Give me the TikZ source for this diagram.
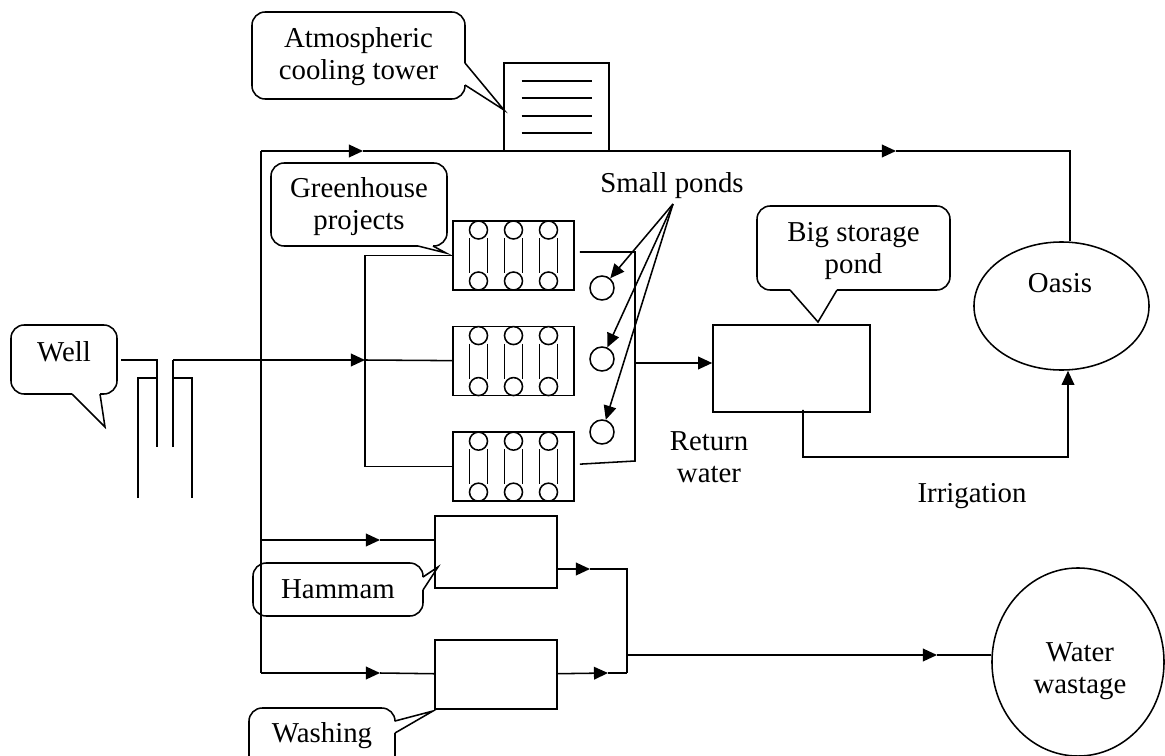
\documentclass[tikz,border=0pt]{standalone}
\usepackage{fontspec}
\setmainfont{Liberation Serif}
\usetikzlibrary{positioning,calc,arrows.meta,shapes.geometric}

\tikzset{
  box/.style={draw, inner sep=0pt},
  unit/.style={box, minimum width=3.025cm, minimum height=1.725cm},
  pond/.style={draw, circle, inner sep=0pt, minimum size=0.6cm},
  pool/.style={draw, ellipse, inner sep=0pt},
  bubble/.style={rounded corners=0.33cm},
}

\begin{document}
\begin{tikzpicture}[x=0.025cm, y=-0.025cm, line width=1.1pt,
    >={Triangle[length=10pt,width=9pt]},
    font=\fontsize{20.5}{22.8}\selectfont]
  \useasboundingbox (0,0) rectangle (1165,756);
  \clip (0,0) rectangle (1165,756);

  \node (1) [box, minimum width=2.625cm, minimum height=2.2cm] at (556.5,107) {};
  \foreach \dy in {-26,-9,9,26}
    \draw ($(1)+(-35,\dy)$) -- ($(1)+(35,\dy)$);
  \draw[bubble] (465,85) -- (465,99) -- (252,99) -- (252,12) -- (465,12) -- (465,63);
  \draw (465,63) -- (504,110) -- (465,85);
  \node (2) [align=center] at (358.5,57) {Atmospheric\\cooling tower};

  \draw[bubble] (418,246) -- (271,246) -- (271,163) -- (447,163) -- (447,246) -- (433,246);
  \draw (433,246) -- (446,253) -- (418,246);
  \node (3) [align=center] at (359,207) {Greenhouse\\projects};

  \node (4) [unit] at (513.5,255.5) {};
  \node (5) [unit, below=0.875cm of 4] {};
  \node (6) [unit, below=0.875cm of 5] {};
  \foreach \u in {4,5,6}
    \foreach \dx in {-35,0,35} {
      \draw ($(\u)+(\dx,-25.5)$) circle (0.225cm);
      \draw ($(\u)+(\dx,25.5)$) circle (0.225cm);
      \draw ($(\u)+(\dx-9,-17.5)$) -- ($(\u)+(\dx-9,17.5)$);
      \draw ($(\u)+(\dx+9,-17.5)$) -- ($(\u)+(\dx+9,17.5)$);
    }

  \node (7) [pond] at (602,288) {};
  \node (8) [pond] at (602,359) {};
  \node (9) [pond] at (602,432) {};
  \node (10) [anchor=base] at (672,192) {Small ponds};
  \coordinate (v) at (673,204);
  \foreach \p in {7,8,9}
    \draw[->] (v) -- (\p);

  \node (11) [box, minimum width=3.925cm, minimum height=2.175cm] at (791.5,368.5) {};
  \draw[bubble] (790,290) -- (757,290) -- (757,206) -- (950,206) -- (950,290) -- (837,290);
  \draw (837,290) -- (818,322) -- (790,290);
  \node (12) [align=center] at (853.5,251) {Big storage\\pond};

  \node (13) [pool, minimum width=4.375cm, minimum height=3.2cm] at (1061.5,306) {};
  \node (14) at (1060,283.5) {Oasis};

  \draw[bubble] (72,394) -- (11,394) -- (11,325) -- (117,325) -- (117,394) -- (100,394);
  \draw (100,394) -- (105,427) -- (72,394);
  \node (15) at (64,352) {Well};
  \draw (121,360) -- (157,360) -- (157,447);
  \draw (138,498) -- (138,378) -- (157,378);
  \draw (173,378) -- (192,378) -- (192,498);
  \coordinate (w) at (173,360);
  \coordinate (j) at (365,360);
  \draw (173,447) -- (w);
  \draw[->] (w) -- (j);

  \draw (j) -- (5);
  \draw (4) -- (j |- 4) -- (j |- 6) -- (6);

  \coordinate (k) at (635,252);
  \coordinate (l) at (635,461);
  \coordinate (m) at (635,363);
  \draw ($(4.east)+(5,-3.5)$) -- (k) -- (l) -- ($(6.east)+(5,-2.5)$);
  \draw[->] (m) -- (m -| 11.west);
  \node (16) [align=center] at (709,457) {Return\\water};

  \coordinate (n) at (803,457);
  \coordinate (o) at (1068,457);
  \draw[->] ($(11.south)+(11.5,-3)$) -- (n) -- (o) -- (o |- 13.south);
  \node (17) [anchor=base] at (972,502) {Irrigation};

  \coordinate (a) at (261,151);
  \coordinate (b) at (363,151);
  \coordinate (c) at (896,151);
  \coordinate (d) at (1070,151);
  \draw[->] (a) -- (b);
  \draw[->] (b) -- (c);
  \draw (c) -- (d) -- (d |- 13.north);

  \coordinate (e) at (261,673);
  \coordinate (f) at (261,540);
  \coordinate (g) at (380,540);
  \coordinate (h) at (380,673);
  \draw (a) -- (e);
  \node (18) [box, minimum width=3.05cm, minimum height=1.8cm] at (496,552) {};
  \node (20) [box, minimum width=3.05cm, minimum height=1.725cm, below=1.2625cm of 18] {};
  \draw[->] (f) -- (g);
  \draw (g) -- (g -| 18.west);
  \draw[->] (e) -- (h);
  \draw (h) -- (20);

  \draw[bubble] (423,590) -- (423,616) -- (253,616) -- (253,563) -- (423,563) -- (423,577);
  \draw (423,577) -- (438,567) -- (423,590);
  \node (19) at (338,589) {Hammam};
  \draw[bubble] (395,733) -- (395,775) -- (249,775) -- (249,708) -- (395,708) -- (395,721);
  \draw (395,721) -- (433,711) -- (395,733);
  \node (21) at (322,736) {Washing};

  \coordinate (p) at (590,569);
  \coordinate (q) at (627,569);
  \coordinate (r) at (627,673);
  \coordinate (s) at (608,673);
  \coordinate (t) at (627,655);
  \coordinate (u) at (937,655);
  \draw[->] (18.east |- p) -- (p);
  \draw (p) -- (q) -- (r);
  \draw[->] (20) -- (s);
  \draw (s) -- (r);
  \draw[->] (t) -- (u);
  \node (22) [pool, minimum width=4.3cm, minimum height=4.7cm] at (1078,662) {};
  \node (23) [align=center] at (1080,671) {Water\\wastage};
  \draw (u) -- (u -| 22.west);
\end{tikzpicture}
\end{document}
